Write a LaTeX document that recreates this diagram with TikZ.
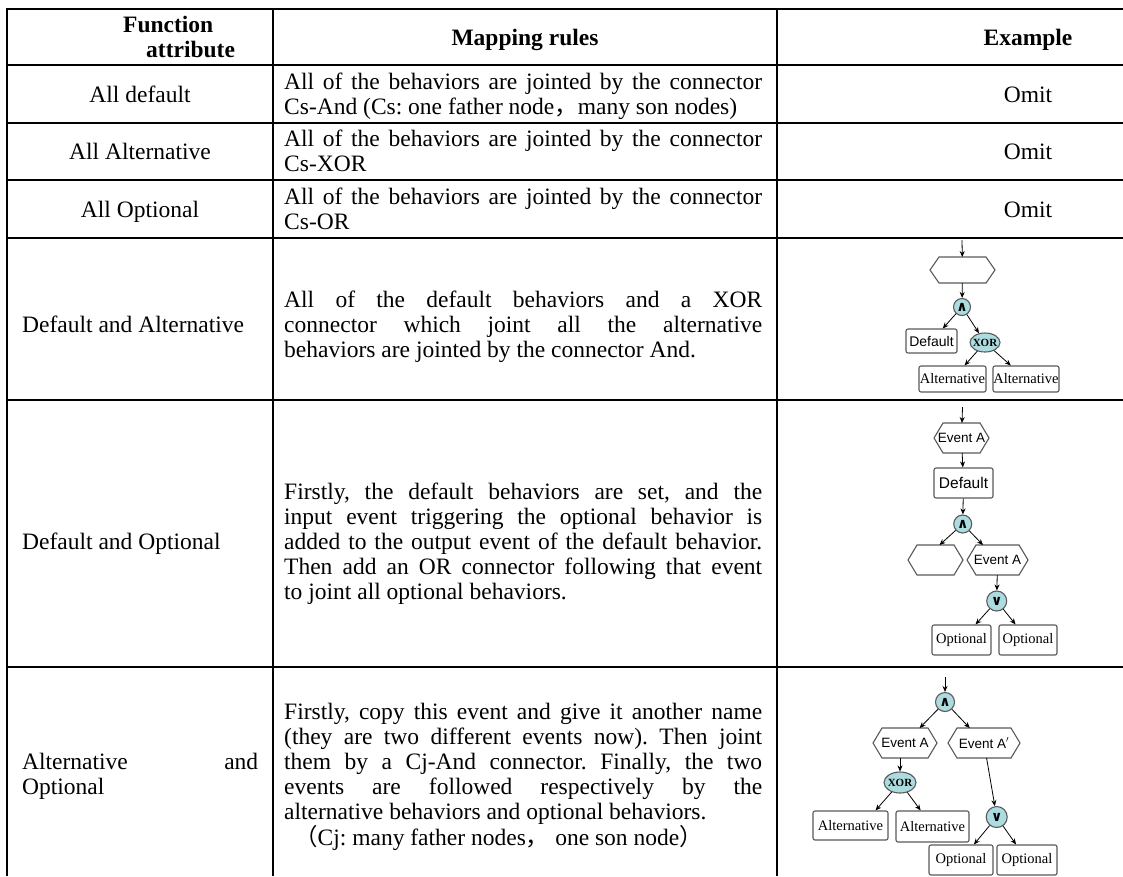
\documentclass[tikz,border=0pt]{standalone}
\usepackage{fontspec}
\setmainfont{Liberation Serif}
\newfontfamily\cjk{Noto Sans CJK SC}
\newfontfamily\diasans{Liberation Sans}
\newfontfamily\connfont{DejaVu Sans}
\usetikzlibrary{shapes.geometric, arrows.meta}
\definecolor{connfill}{HTML}{ACDCDF}
\definecolor{boxline}{HTML}{5A5A5A}
\newcommand{\tabfont}{\fontsize{23.5}{25}\selectfont\frenchspacing}
\newcommand{\jl}[1]{\makebox[478pt][s]{\spaceskip=0pt\xspaceskip=0pt #1}\\}
\newcommand{\hextip}{9pt}
\newcommand{\hexline}[1]{\draw[boxline, line width=1.1pt] (#1.west) -- ([xshift=\hextip]#1.north west) -- ([xshift=-\hextip]#1.north east) -- (#1.east) -- ([xshift=-\hextip]#1.south east) -- ([xshift=\hextip]#1.south west) -- cycle;}

\begin{document}
\begin{tikzpicture}[x=1pt, y=-1pt]
    \tikzstyle{tbl} = [line width=2.7pt]
    \tikzstyle{cell} = [anchor=base west, inner sep=0pt, align=justify, text width=478pt, font=\tabfont]
    \tikzstyle{lbl} = [anchor=base, inner sep=0pt, font=\tabfont]
    \tikzstyle{hd} = [anchor=base, inner sep=0pt, font=\tabfont\bfseries]
    \tikzstyle{bhv} = [draw=boxline, line width=1.1pt, rounded corners=2pt, fill=white, inner sep=0pt, minimum height=28pt]
    \tikzstyle{bsans} = [font=\diasans\fontsize{14}{14}\selectfont]
    \tikzstyle{bserif} = [font=\fontsize{14.5}{14}\selectfont]
    \tikzstyle{hexa} = [inner sep=0pt, outer sep=0pt, minimum height=30pt, font=\diasans\fontsize{13.5}{14}\selectfont]
    \tikzstyle{andc} = [circle, draw=boxline, line width=1.1pt, fill=connfill, inner sep=0pt, minimum size=18pt, font=\connfont\bfseries\fontsize{14}{14}\selectfont]
    \tikzstyle{xorc} = [ellipse, draw=boxline, line width=1.1pt, fill=connfill, inner sep=0pt, font=\bfseries\fontsize{11}{11}\selectfont]
    \tikzstyle{flow} = [-{Stealth[length=6pt, width=5pt]}, line width=0.8pt]

    \useasboundingbox (0,0) rectangle (1123,876);
    \fill[white] (0,0) rectangle (1123,876);

    \draw[tbl] (7,876) -- (7,9) -- (1123,9);
    \foreach \y in {65,123,180,238,400,667}
        \draw[tbl] (7,\y) -- (1123,\y);
    \foreach \x in {273,777}
        \draw[tbl] (\x,9) -- (\x,876);

    \node[hd, anchor=base west] (hfun) at (123,32) {Function};
    \node[hd, anchor=base west] (hatt) at (146,57) {attribute};
    \node[hd] (hmap) at (525,45) {Mapping rules};
    \node[hd] (hexm) at (1028,45) {Example};

    \node[lbl] (kind1) at (140,102) {All default};
    \node[cell] (rule1) at (284,89) {\jl{All of the behaviors are jointed by the connector}Cs-And (Cs: one father node{\cjk ，}many son nodes)};
    \node[lbl] (omit1) at (1028,102) {Omit};

    \node[lbl] (kind2) at (140,159.5) {All Alternative};
    \node[cell] (rule2) at (284,146.5) {\jl{All of the behaviors are jointed by the connector}Cs-XOR};
    \node[lbl] (omit2) at (1028,159.5) {Omit};

    \node[lbl] (kind3) at (140,217) {All Optional};
    \node[cell] (rule3) at (284,204) {\jl{All of the behaviors are jointed by the connector}Cs-OR};
    \node[lbl] (omit3) at (1028,217) {Omit};

    \node[lbl, anchor=base west] (kind4) at (22,332) {Default and Alternative};
    \node[cell] (rule4) at (284,307) {\jl{All of the default behaviors and a XOR}\jl{connector which joint all the alternative}behaviors are jointed by the connector And.};

    \node[lbl, anchor=base west] (kind5) at (22,549) {Default and Optional};
    \node[cell] (rule5) at (284,499) {\jl{Firstly, the default behaviors are set, and the}\jl{input event triggering the optional behavior is}\jl{added to the output event of the default behavior.}\jl{Then add an OR connector following that event}to joint all optional behaviors.};

    \node[cell, text width=236pt] (kind6) at (22,769) {\makebox[236pt][s]{\spaceskip=0pt Alternative and}\\Optional};
    \node[cell] (rule6) at (284,719) {\jl{Firstly, copy this event and give it another name}\jl{(they are two different events now). Then joint}\jl{them by a Cj-And connector. Finally, the two}\jl{events are followed respectively by the}alternative behaviors and optional behaviors.\\\hspace*{10pt}{\cjk （}Cj: many father nodes{\cjk ，} one son node{\cjk ）}};

    \coordinate (top1) at (962,240);
    \node[hexa, minimum width=65pt, minimum height=26pt] (ev1) at (962.5,270) {};
    \hexline{ev1}
    \node[andc, minimum size=17pt] (and1) at (962,307) {∧};
    \node[bhv, bsans, minimum width=51pt, minimum height=24pt] (def1) at (931.5,341) {Default};
    \node[xorc, minimum width=30pt, minimum height=19pt] (xor1) at (985,342.5) {\makebox[0pt]{XOR}};
    \node[bhv, bserif, minimum width=67pt, minimum height=26pt] (alt1a) at (952.5,379) {Alternative};
    \node[bhv, bserif, minimum width=66pt, minimum height=26pt] (alt1b) at (1026,379) {Alternative};
    \draw[flow] (top1) -- (ev1);
    \draw[flow] (ev1) -- (and1);
    \draw[flow] (and1) -- (def1);
    \draw[flow] (and1) -- (xor1);
    \draw[flow] (xor1) -- (alt1a);
    \draw[flow] (xor1) -- (alt1b);

    \coordinate (top2) at (962.5,407);
    \node[hexa, minimum width=55pt] (ev2) at (961.5,438) {Event A};
    \hexline{ev2}
    \node[bhv, font=\diasans\fontsize{15.5}{16}\selectfont, minimum width=59pt, minimum height=30pt] (def2) at (963.5,483) {Default};
    \node[andc] (and2) at (962.7,524) {∧};
    \node[hexa, minimum width=55pt] (ev2b) at (935.5,560) {};
    \hexline{ev2b}
    \node[hexa, minimum width=61pt] (ev2c) at (997.5,560) {Event A};
    \hexline{ev2c}
    \node[andc, minimum size=20pt] (or2) at (996.7,601) {∨};
    \node[bhv, bserif, minimum width=59pt, minimum height=30pt] (opt2a) at (961.5,640) {Optional};
    \node[bhv, bserif, minimum width=58pt, minimum height=30pt] (opt2b) at (1028,640) {Optional};
    \draw[flow] (top2) -- (ev2);
    \draw[flow] (ev2) -- (def2);
    \draw[flow] (def2) -- (and2);
    \draw[flow] (and2) -- ([xshift=4pt]ev2b.north);
    \draw[flow] (and2) -- (ev2c);
    \draw[flow] (ev2c) -- (or2);
    \draw[flow] (or2) -- (opt2a);
    \draw[flow] (or2) -- (opt2b);

    \coordinate (top3) at (945,677);
    \node[andc, minimum size=19pt] (and3) at (945,702) {∧};
    \node[hexa, minimum width=64pt] (ev3) at (905,743) {Event A};
    \hexline{ev3}
    \node[hexa, minimum width=72pt] (ev3p) at (984,743) {Event A$^{\prime}$};
    \hexline{ev3p}
    \node[xorc, minimum width=32pt, minimum height=21pt] (xor3) at (900,782.5) {\makebox[0pt]{XOR}};
    \node[bhv, bserif, minimum width=75pt, minimum height=29pt] (alt3a) at (850.5,825.5) {Alternative};
    \node[bhv, bserif, minimum width=73pt, minimum height=31pt] (alt3b) at (932.5,826.5) {Alternative};
    \node[andc, minimum size=21pt] (or3) at (996.7,817) {∨};
    \node[bhv, bserif, minimum width=64pt, minimum height=30pt] (opt3a) at (961,860) {Optional};
    \node[bhv, bserif, minimum width=60pt, minimum height=30pt] (opt3b) at (1027,860) {Optional};
    \draw[flow] (top3) -- (and3);
    \draw[flow] (and3) -- (ev3);
    \draw[flow] (and3) -- (ev3p);
    \draw[flow] (xor3 |- ev3.south) -- (xor3);
    \draw[flow] (xor3) -- ([xshift=25pt]alt3a.north);
    \draw[flow] (xor3) -- (alt3b);
    \draw[flow] (ev3p) -- (or3);
    \draw[flow] (or3) -- (opt3a);
    \draw[flow] (or3) -- (opt3b);
\end{tikzpicture}
\end{document}
